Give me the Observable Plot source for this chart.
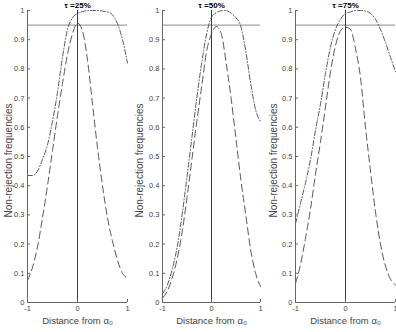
<!DOCTYPE html>
<html>
<head>
<meta charset="utf-8">
<script src="https://cdn.jsdelivr.net/npm/d3@7"></script>
<script src="https://cdn.jsdelivr.net/npm/@observablehq/plot@0.6"></script>
<style>
  html, body { margin: 0; padding: 0; background: #fff; }
  #chart { position: relative; width: 396px; height: 332px; overflow: hidden; }
  .panel { position: absolute; top: 0; }
</style>
</head>
<body>
<div id="chart"></div>
<script>
const xs = [-1, -0.9, -0.8, -0.7, -0.6, -0.5, -0.4, -0.3, -0.2, -0.1, 0, 0.1, 0.2, 0.3, 0.4, 0.5, 0.6, 0.7, 0.8, 0.9, 1];
const titles = ["τ =25%", "τ =50%", "τ =75%"];
const xTicks = [-1, 0, 1];
const yTicks = [0, 0.1, 0.2, 0.3, 0.4, 0.5, 0.6, 0.7, 0.8, 0.9, 1];
const yLabel = "Non-rejection frequencies";
const xLabel = "Distance from α₀";
const refLevel = 0.95;

// dashed series
const dashed25 = [0.075, 0.12, 0.19, 0.29, 0.40, 0.52, 0.64, 0.75, 0.85, 0.92, 0.957, 0.93, 0.83, 0.68, 0.53, 0.40, 0.29, 0.21, 0.145, 0.10, 0.085];
const dashed50 = [0.015, 0.04, 0.085, 0.15, 0.24, 0.36, 0.49, 0.62, 0.74, 0.86, 0.92, 0.945, 0.92, 0.82, 0.70, 0.56, 0.42, 0.30, 0.18, 0.10, 0.055];
const dashed75 = [0.065, 0.13, 0.22, 0.32, 0.44, 0.55, 0.67, 0.79, 0.88, 0.93, 0.943, 0.935, 0.87, 0.77, 0.60, 0.45, 0.31, 0.20, 0.125, 0.08, 0.06];
// dash-dot series
const dashdot25 = [0.435, 0.435, 0.45, 0.49, 0.54, 0.62, 0.72, 0.84, 0.935, 0.975, 0.99, 0.996, 1.0, 1.0, 1.0, 0.998, 0.995, 0.985, 0.955, 0.90, 0.82];
const dashdot50 = [0.03, 0.06, 0.115, 0.19, 0.30, 0.43, 0.565, 0.70, 0.82, 0.92, 0.977, 0.993, 0.999, 1.0, 0.99, 0.975, 0.945, 0.86, 0.75, 0.66, 0.62];
const dashdot75 = [0.27, 0.34, 0.41, 0.49, 0.59, 0.68, 0.785, 0.875, 0.935, 0.97, 0.99, 0.995, 1.0, 1.0, 0.998, 0.99, 0.97, 0.935, 0.89, 0.84, 0.79];

const dashedAll = [dashed25, dashed50, dashed75];
const dashdotAll = [dashdot25, dashdot50, dashdot75];

const layout = [
  {left: 0, width: 132, marginRight: 5, labelDx: -19},
  {left: 135, width: 130, marginRight: 5, labelDx: -23},
  {left: 268, width: 128, marginRight: 1, labelDx: -22}
];
const marginLeft = 27;

const font = "'Liberation Sans', Arial, Helvetica, sans-serif";
const fmt = d => String(d);

titles.forEach((title, i) => {
  const dataD = xs.map((x, j) => ({x, y: dashedAll[i][j]}));
  const dataDD = xs.map((x, j) => ({x, y: dashdotAll[i][j]}));
  const L = layout[i];
  const plot = Plot.plot({
    width: L.width,
    height: 332,
    marginTop: 10,
    marginBottom: 30,
    marginLeft,
    marginRight: L.marginRight,
    x: {domain: [-1, 1]},
    y: {domain: [0, 1]},
    style: {fontFamily: font, fontSize: "7.5px", color: "#444", background: "white", overflow: "visible"},
    marks: [
      Plot.ruleY([refLevel], {stroke: "#8a8a8a", strokeWidth: 1}),
      Plot.ruleX([0], {stroke: "#3a3a3a", strokeWidth: 1}),
      Plot.line(dataD, {x: "x", y: "y", stroke: "#444", strokeWidth: 0.9, strokeDasharray: "7,4", curve: "monotone-x"}),
      Plot.line(dataDD, {x: "x", y: "y", stroke: "#444", strokeWidth: 0.9, strokeDasharray: "5,2,1,2", curve: "monotone-x"}),
      Plot.ruleX([-1], {stroke: "#666", strokeWidth: 1}),
      Plot.ruleY([0], {stroke: "#666", strokeWidth: 1}),
      Plot.axisX({ticks: xTicks, tickSize: -3, tickPadding: 6, tickFormat: fmt, label: null, stroke: "#666"}),
      Plot.axisY({ticks: yTicks, tickSize: -3, tickPadding: 6, tickFormat: fmt, label: null, stroke: "#666"}),
      Plot.text([title], {frameAnchor: "top", lineAnchor: "bottom", dy: -3, text: d => d, fontWeight: "bold", fontSize: 8, fill: "#000"}),
      Plot.text([yLabel], {frameAnchor: "left", textAnchor: "middle", lineAnchor: "middle", rotate: -90, dx: L.labelDx, dy: 4, text: d => d, fontSize: 10, fill: "#444"}),
      Plot.text([xLabel], {frameAnchor: "bottom", dy: 21, text: d => d, fontSize: 9.5, fill: "#444"})
    ]
  });
  const div = document.createElement("div");
  div.className = "panel";
  div.style.left = L.left + "px";
  div.appendChild(plot);
  document.getElementById("chart").appendChild(div);
});
</script>
</body>
</html>
